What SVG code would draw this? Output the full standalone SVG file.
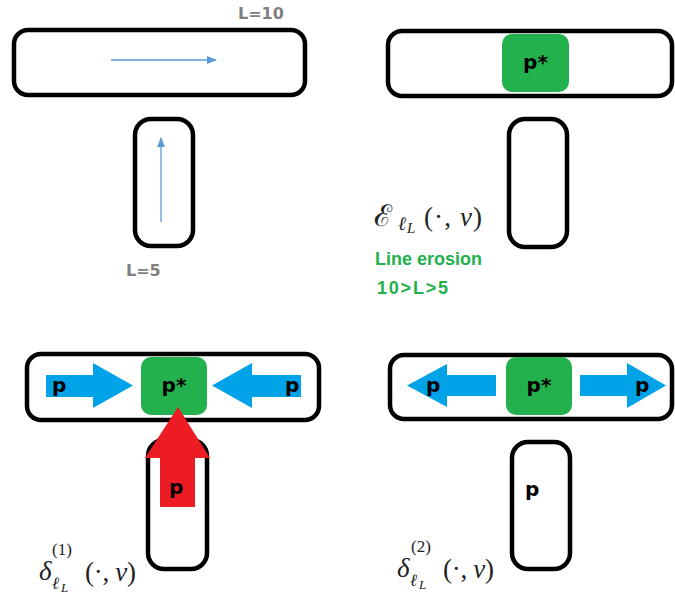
<svg xmlns="http://www.w3.org/2000/svg" width="675" height="594" viewBox="0 0 675 594">
<style>
.box{fill:#fff;stroke:#000;stroke-width:4.5}
.green{fill:#22B14C}
.blue{fill:#00A2E8}
.red{fill:#ED1C24}
.lbl{font-family:"DejaVu Sans","Liberation Sans",sans-serif;font-weight:bold;fill:#000}
.gray{font-family:"DejaVu Sans","Liberation Sans",sans-serif;font-weight:bold;fill:#7F7F7F;font-size:16px}
.gtxt{font-family:"Liberation Sans",Arial,sans-serif;font-weight:bold;fill:#22B14C;font-size:18px}
.math{font-family:"Liberation Serif","DejaVu Serif",serif;fill:#222}
.thin{stroke:#5B9BD5;stroke-width:1.3;fill:none}
</style>
<defs>
<marker id="ah" markerWidth="10" markerHeight="8" refX="9" refY="4" orient="auto" markerUnits="userSpaceOnUse">
<path d="M0,0 L10,4 L0,8 Z" fill="#5B9BD5"/>
</marker>
</defs>
<rect width="675" height="594" fill="#fff"/>

<!-- Panel 1 -->
<g id="p1-h"><rect class="box" x="14" y="30" width="291" height="65" rx="14"/></g>
<g id="p1-v"><rect class="box" x="135" y="119" width="58" height="127" rx="16"/></g>
<g id="p1-labels">
<text class="gray" x="238" y="19">L=10</text>
<text class="gray" x="126" y="276">L=5</text>
</g>

<!-- Panel 2 -->
<g id="p2-h"><rect class="box" x="388" y="31" width="284" height="65" rx="14"/></g>
<g id="p2-pstar"><rect class="green" x="502" y="34" width="67" height="58" rx="10"/>
<text class="lbl" x="535.5" y="69" font-size="20" text-anchor="middle">p*</text></g>
<g id="p2-v"><rect class="box" x="509" y="119" width="58" height="128" rx="16"/></g>
<g id="p2-labels">
<text class="math" x="374" y="226" font-size="30" font-family="DejaVu Serif,serif">ℰ</text>
<text class="math" x="398" y="230" font-size="19" font-style="italic">ℓ</text>
<text class="math" x="407" y="233" font-size="15" font-style="italic">L</text>
<text class="math" x="424" y="226" font-size="27" textLength="58">(·, <tspan font-style="italic">v</tspan>)</text>
<text class="gtxt" x="375" y="265">Line erosion</text>
<text class="gtxt" x="377" y="294" textLength="71">10&gt;L&gt;5</text>
</g>

<!-- Panel 3 -->
<g id="p3-v"><rect class="box" x="148" y="440" width="59" height="129" rx="16"/></g>
<g id="p3-h"><rect class="box" x="27" y="354" width="292" height="66" rx="14"/></g>
<g id="p3-pstar"><rect class="green" x="141" y="357" width="66" height="58" rx="10"/>
<text class="lbl" x="174" y="392" font-size="20" text-anchor="middle">p*</text></g>
<g id="p3-labels">
<text class="math" x="39" y="580" font-size="27" font-style="italic">δ</text>
<text class="math" x="52" y="555" font-size="17">(1)</text>
<text class="math" x="52" y="589" font-size="17" font-style="italic">ℓ</text>
<text class="math" x="61" y="592" font-size="13" font-style="italic">L</text>
<text class="math" x="85" y="581" font-size="27" textLength="51">(·, <tspan font-style="italic">v</tspan>)</text>
</g>

<!-- Panel 4 -->
<g id="p4-h"><rect class="box" x="390" y="355" width="282" height="64" rx="14"/></g>
<g id="p4-pstar"><rect class="green" x="506" y="357" width="66" height="58" rx="10"/>
<text class="lbl" x="539" y="392" font-size="20" text-anchor="middle">p*</text></g>
<g id="p4-v"><rect class="box" x="512" y="442" width="58" height="127" rx="16"/>
<text class="lbl" x="525" y="496" font-size="20">p</text></g>
<g id="p4-labels">
<text class="math" x="397" y="577" font-size="27" font-style="italic">δ</text>
<text class="math" x="411" y="552" font-size="17">(2)</text>
<text class="math" x="410" y="586" font-size="17" font-style="italic">ℓ</text>
<text class="math" x="419" y="589" font-size="13" font-style="italic">L</text>
<text class="math" x="443" y="578" font-size="27" textLength="51">(·, <tspan font-style="italic">v</tspan>)</text>
</g>

<!-- Connectors / arrows -->
<g id="connectors">
<line class="thin" x1="111" y1="60" x2="216" y2="60" marker-end="url(#ah)"/>
<line class="thin" x1="161" y1="222" x2="161" y2="138" marker-end="url(#ah)"/>

<g id="p3-arrow-left">
<polygon class="blue" points="46,375 93,375 93,363 133,385.5 93,408 93,397 46,397"/>
<text class="lbl" x="52" y="392" font-size="20">p</text>
</g>
<g id="p3-arrow-right">
<polygon class="blue" points="301,375 252,375 252,363 212,385.5 252,408 252,397 301,397"/>
<text class="lbl" x="285" y="392" font-size="20">p</text>
</g>
<g id="p3-arrow-up">
<polygon class="red" points="160,507 160,458 145,458 178,407 210,458 195,458 195,507"/>
<text class="lbl" x="169" y="494" font-size="20">p</text>
</g>
<g id="p4-arrow-left">
<polygon class="blue" points="496,375 447,375 447,364 407,385.5 447,407 447,396 496,396"/>
<text class="lbl" x="426" y="392" font-size="20">p</text>
</g>
<g id="p4-arrow-right">
<polygon class="blue" points="580,375 627,375 627,363 666,385.5 627,408 627,396 580,396"/>
<text class="lbl" x="635" y="392" font-size="20">p</text>
</g>
</g>
</svg>
